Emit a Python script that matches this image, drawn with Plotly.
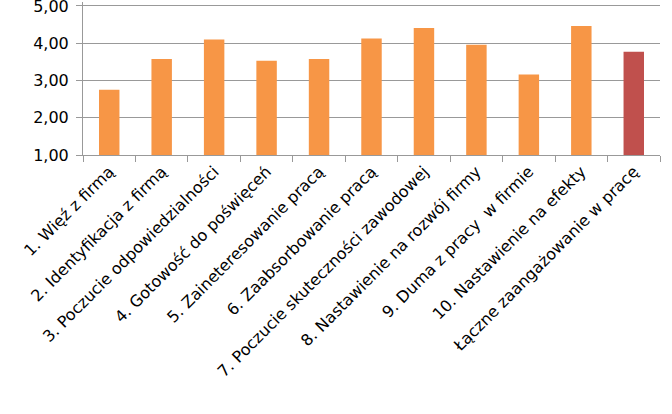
import plotly.graph_objects as go

categories = [
    "1. Więź z firmą",
    "2. Identyfikacja z firmą",
    "3. Poczucie odpowiedzialności",
    "4. Gotowość do poświęceń",
    "5. Zaineteresowanie pracą",
    "6. Zaabsorbowanie pracą",
    "7. Poczucie skuteczności zawodowej",
    "8. Nastawienie na rozwój firmy",
    "9. Duma z pracy  w firmie",
    "10. Nastawienie na efekty",
    "Łączne zaangażowanie w pracę",
]
values = [2.75, 3.58, 4.10, 3.53, 3.58, 4.13, 4.41, 3.96, 3.16, 4.46, 3.77]
bar_colors = ["#F79646"] * 10 + ["#C0504D"]
y_ticks = [1, 2, 3, 4, 5]
y_tick_labels = ["1,00", "2,00", "3,00", "4,00", "5,00"]

fig = go.Figure(
    go.Bar(x=categories, y=values, marker=dict(color=bar_colors, line=dict(width=0)))
)

fig.update_layout(
    width=672, height=414,
    margin=dict(l=83, r=12, t=2, b=259),
    paper_bgcolor="white", plot_bgcolor="white",
    bargap=0.61,
    showlegend=False,
    font=dict(family="DejaVu Sans", size=16, color="black"),
)
fig.update_xaxes(
    tickangle=-45, tickson="boundaries", ticks="outside", ticklen=6,
    tickcolor="#999999", showline=True, linecolor="#999999", linewidth=1,
    showgrid=False, tickfont=dict(size=16, color="black"), automargin=False,
)
fig.update_yaxes(
    range=[1, 5.107], tickmode="array", tickvals=y_ticks, ticktext=y_tick_labels,
    ticks="outside", ticklen=6,
    tickcolor="#999999", showline=True, linecolor="#999999", linewidth=1,
    showgrid=True, gridcolor="#999999", gridwidth=1, zeroline=False,
    tickfont=dict(size=16, color="black"), automargin=False,
    ticklabelstandoff=4, ticklabeloverflow="allow",
)
fig.write_html(
    "out.html",
    config={"displayModeBar": False},
    post_script="document.body.style.margin='0';document.body.style.padding='0';",
)
